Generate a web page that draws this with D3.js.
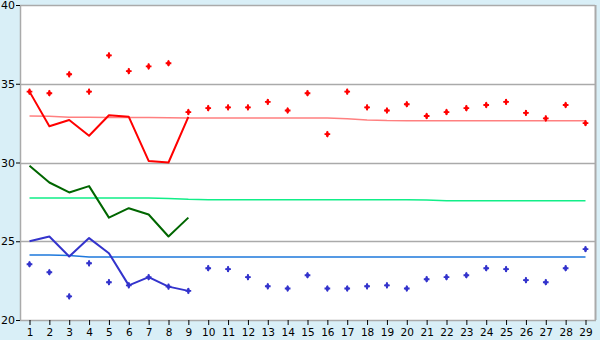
<!DOCTYPE html>
<html><head><meta charset="utf-8">
<script src="https://cdn.jsdelivr.net/npm/d3@7"></script>
<style>
html,body{margin:0;padding:0;background:#d9eff7;}
svg{display:block;}
text{font-family:"DejaVu Sans",sans-serif;font-size:10.5px;fill:#000;}
</style></head><body>
<svg id="c" width="600" height="340"></svg>
<script>
const days = d3.range(1, 30);
const yTicks = [20, 25, 30, 35, 40];

const redLine   = [34.5, 32.3, 32.7, 31.7, 33.0, 32.9, 30.1, 30.0, 32.9];
const greenLine = [29.8, 28.73, 28.1, 28.5, 26.5, 27.1, 26.7, 25.3, 26.5];
const blueLine  = [25.0, 25.3, 24.03, 25.2, 24.24, 22.2, 22.72, 22.12, 21.85];

const redPoints = [34.5, 34.4, 35.6, 34.5, 36.8, 35.8, 36.1, 36.3, 33.2, 33.45,
  33.5, 33.5, 33.85, 33.3, 34.4, 31.8, 34.5, 33.5, 33.3, 33.7,
  32.95, 33.2, 33.45, 33.65, 33.85, 33.15, 32.8, 33.65, 32.5];
const bluePoints = [23.54, 23.03, 21.5, 23.6, 22.4, 22.2, 22.72, 22.12, 21.85, 23.29,
  23.23, 22.72, 22.14, 22.0, 22.84, 22.0, 22.0, 22.14, 22.2, 22.0,
  22.59, 22.72, 22.84, 23.29, 23.23, 22.53, 22.4, 23.29, 24.5];

const redAvg = [32.95, 32.93, 32.88, 32.88, 32.86, 32.86, 32.85, 32.84, 32.83, 32.83,
  32.83, 32.83, 32.83, 32.83, 32.83, 32.83, 32.77, 32.7, 32.66, 32.65,
  32.65, 32.65, 32.65, 32.65, 32.65, 32.65, 32.65, 32.65, 32.65];
const greenAvg = [27.74, 27.74, 27.74, 27.74, 27.74, 27.74, 27.74, 27.72, 27.66, 27.64,
  27.64, 27.64, 27.64, 27.64, 27.64, 27.64, 27.64, 27.64, 27.64, 27.64,
  27.62, 27.57, 27.57, 27.57, 27.57, 27.57, 27.57, 27.57, 27.57];
const blueAvg = [24.12, 24.12, 24.1, 24.0, 24.0, 24.0, 24.0, 24.0, 24.0, 24.0,
  24.0, 24.0, 24.0, 24.0, 24.0, 24.0, 24.0, 24.0, 24.0, 24.0,
  24.0, 24.0, 24.0, 24.0, 24.0, 24.0, 24.0, 24.0, 24.0];

const svg = d3.select("#c");
const L = 20, T = 5, R = 595, B = 320;
const x = d3.scaleLinear().domain([1, 29]).range([29.5, 585.5]);
const y = d3.scaleLinear().domain([20, 40]).range([B, T]);

svg.append("rect").attr("x", L).attr("y", T).attr("width", R - L).attr("height", B - T).attr("fill", "#fff");

// gridlines
svg.append("g").selectAll("line").data(yTicks.filter(v => v > 20)).join("line")
  .attr("x1", L).attr("x2", R)
  .attr("y1", d => Math.round(y(d)) + 0.5).attr("y2", d => Math.round(y(d)) + 0.5)
  .attr("stroke", "#aaaaaa").attr("stroke-width", 1.5);

// borders
svg.append("line").attr("x1", R + 0.5).attr("x2", R + 0.5).attr("y1", T).attr("y2", B)
  .attr("stroke", "#aaaaaa").attr("stroke-width", 2);
svg.append("line").attr("x1", L + 0.5).attr("x2", L + 0.5).attr("y1", T).attr("y2", B)
  .attr("stroke", "#aaaaaa").attr("stroke-width", 1.5);
svg.append("line").attr("x1", L).attr("x2", R + 1).attr("y1", B + 0.5).attr("y2", B + 0.5)
  .attr("stroke", "#aaaaaa").attr("stroke-width", 1.5);

// y axis
const yAxis = d3.axisLeft(y).tickValues(yTicks).tickSize(4).tickPadding(1).tickFormat(d3.format("d"));
const gy = svg.append("g").attr("transform", `translate(${L},0)`).call(yAxis);
gy.select(".domain").remove();
gy.selectAll(".tick line").attr("stroke", "#000");
gy.selectAll("text").style("font-size", "11px").style("fill", "#000");

// x axis
const xAxis = d3.axisBottom(x).tickValues(days).tickSize(5).tickPadding(4).tickFormat(d3.format("d"));
const gx = svg.append("g").attr("transform", `translate(0,${B})`).call(xAxis);
gx.select(".domain").remove();
gx.selectAll(".tick line").attr("stroke", "#000");
gx.selectAll("text").style("font-size", "10.5px").style("fill", "#000");

const line = d3.line().x((d, i) => x(i + 1)).y(d => y(d));

// average lines
[[redAvg, "#ff8080"], [greenAvg, "#11ee88"], [blueAvg, "#1e78dc"]].forEach(([arr, c]) => {
  svg.append("path").datum(arr).attr("d", line).attr("fill", "none")
    .attr("stroke", c).attr("stroke-width", 1.5);
});

// main lines
[[redLine, "#ff0000"], [greenLine, "#006600"], [blueLine, "#3333cc"]].forEach(([arr, c]) => {
  svg.append("path").datum(arr).attr("d", line).attr("fill", "none")
    .attr("stroke", c).attr("stroke-width", 2).attr("stroke-linejoin", "round");
});

// scatter points
const symA = d3.symbol().type(d3.symbolCross).size(18);
const symB = d3.symbol().type(d3.symbolDiamond).size(14);
[[redPoints, "#ff0000"], [bluePoints, "#3333cc"]].forEach(([arr, c]) => {
  const g = svg.append("g").selectAll("g").data(arr).join("g")
    .attr("transform", (d, i) => `translate(${x(i + 1)},${y(d)})`);
  g.append("path").attr("d", symA).attr("fill", c);
  g.append("path").attr("d", symB).attr("fill", c);
});
</script>
</body></html>
